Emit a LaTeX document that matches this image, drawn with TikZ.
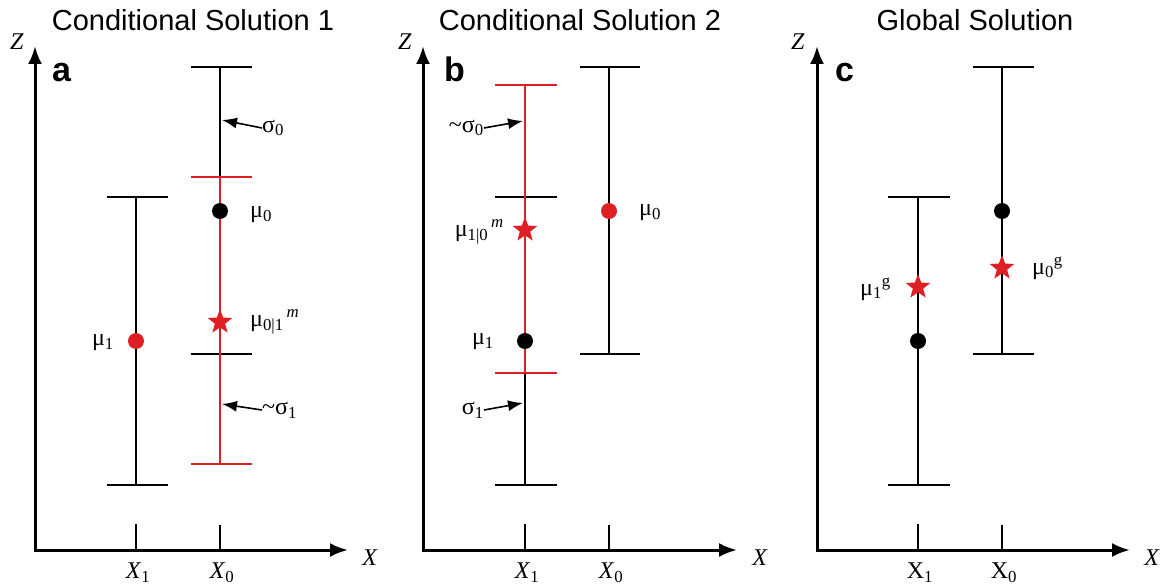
\documentclass[tikz,border=0pt]{standalone}
\usepackage{fontspec}
\setmainfont{Liberation Serif}
\newfontfamily\headfont{Liberation Sans}
\usetikzlibrary{arrows.meta,shapes.geometric}
\definecolor{barred}{RGB}{222,32,36}

\begin{document}
\begin{tikzpicture}[x=1pt,y=-1pt,
  zxaxis/.style={line width=3pt,line join=miter,{Latex[length=18pt,width=14pt]}-{Latex[length=18pt,width=14pt]}},
  errbar/.style={line width=2.6pt},
  pointer/.style={line width=1.6pt,-{Latex[length=15pt,width=11pt]}},
  title/.style={font=\headfont\fontsize{29}{30}\selectfont},
  panel/.style={font=\headfont\bfseries\fontsize{34}{34}\selectfont,anchor=base west,inner sep=0pt},
  lab/.style={font=\fontsize{24}{24}\selectfont,inner sep=0pt},
  ptdot/.style={circle,fill,minimum size=16pt,inner sep=0pt},
  mstar/.style={star,star points=5,star point ratio=2.4,fill=barred,minimum size=26pt,inner sep=0pt}]
  \useasboundingbox (0,0) rectangle (1163,588);

  % panel a
  \node[title] (ta) at (193,20) {Conditional Solution 1};
  \node[panel] (pa) at (52,82) {a};
  \draw[zxaxis] (35,46) -- (35,550) -- (348,550);
  \node[lab] (za) at (17,42) {\textit{Z}};
  \node[lab] (xa) at (370,558) {\textit{X}};
  \draw[errbar] (136,524) -- (136,550) (220,525) -- (220,550);
  \node[lab] (x1a) at (138,573) {\textit{X}\textsubscript{1}};
  \node[lab] (x0a) at (222,573) {\textit{X}\textsubscript{0}};
  \draw[errbar] (107,197) -- (168,197) (136,197) -- (136,485) (107,485) -- (168,485);
  \draw[errbar] (191,67) -- (252,67) (220,67) -- (220,354) (191,354) -- (252,354);
  \draw[errbar,barred] (191,177) -- (252,177) (220,177) -- (220,464) (191,464) -- (252,464);
  \node[ptdot,barred] (m1a) at (136,341) {};
  \node[ptdot] (m0a) at (220,211) {};
  \node[mstar] (m01) at (220,322) {};
  \node[lab] (lm1a) at (103,343) {μ\textsubscript{1}};
  \node[lab,anchor=west] (lm0a) at (250,215) {μ\textsubscript{0}};
  \node[lab,anchor=west] (lm01) at (250,322) {μ\textsubscript{0|1}\textsuperscript{\,\textit{m}}};
  \node[lab,anchor=west] (s0a) at (262,128) {σ\textsubscript{0}};
  \coordinate (s0atip) at (222,120);
  \draw[pointer] (s0a.west) -- (s0atip);
  \node[lab,anchor=west] (s1a) at (262,410) {\textasciitilde σ\textsubscript{1}};
  \coordinate (s1atip) at (222,404);
  \draw[pointer] (s1a.west) -- (s1atip);

  % panel b
  \node[title] (tb) at (580,20) {Conditional Solution 2};
  \node[panel] (pb) at (444,82) {b};
  \draw[zxaxis] (423,46) -- (423,550) -- (737,550);
  \node[lab] (zb) at (405,42) {\textit{Z}};
  \node[lab] (xb) at (760,558) {\textit{X}};
  \draw[errbar] (525,524) -- (525,550) (609,525) -- (609,550);
  \node[lab] (x1b) at (527,573) {\textit{X}\textsubscript{1}};
  \node[lab] (x0b) at (611,573) {\textit{X}\textsubscript{0}};
  \draw[errbar] (580,67) -- (640,67) (609,67) -- (609,354) (580,354) -- (640,354);
  \draw[errbar] (495,197) -- (557,197) (525,197) -- (525,485) (495,485) -- (557,485);
  \draw[errbar,barred] (495,85) -- (557,85) (525,85) -- (525,373) (495,373) -- (557,373);
  \node[ptdot] (m1b) at (525,341) {};
  \node[ptdot,barred] (m0b) at (609,211) {};
  \node[mstar] (m10) at (525,230) {};
  \node[lab,anchor=east] (lm1b) at (494,342) {μ\textsubscript{1}};
  \node[lab,anchor=west] (lm0b) at (639,213) {μ\textsubscript{0}};
  \node[lab,anchor=east] (lm10) at (504,232) {μ\textsubscript{1|0}\textsuperscript{\,\textit{m}}};
  \node[lab,anchor=east] (s0b) at (484,128) {\textasciitilde σ\textsubscript{0}};
  \coordinate (s0btip) at (523,121);
  \draw[pointer] (s0b.east) -- (s0btip);
  \node[lab,anchor=east] (s1b) at (484,410) {σ\textsubscript{1}};
  \coordinate (s1btip) at (523,403);
  \draw[pointer] (s1b.east) -- (s1btip);

  % panel c
  \node[title] (tc) at (975,20) {Global Solution};
  \node[panel] (pc) at (835,82) {c};
  \draw[zxaxis] (817,46) -- (817,550) -- (1130,550);
  \node[lab] (zc) at (798,42) {\textit{Z}};
  \node[lab] (xc) at (1152,558) {\textit{X}};
  \draw[errbar] (918,524) -- (918,550) (1002,525) -- (1002,550);
  \node[lab] (x1c) at (920,573) {X\textsubscript{1}};
  \node[lab] (x0c) at (1004,573) {X\textsubscript{0}};
  \draw[errbar] (888,197) -- (950,197) (918,197) -- (918,485) (888,485) -- (950,485);
  \draw[errbar] (973,67) -- (1034,67) (1002,67) -- (1002,354) (973,354) -- (1034,354);
  \node[ptdot] (m1c) at (918,341) {};
  \node[ptdot] (m0c) at (1002,211) {};
  \node[mstar] (g1) at (918,287) {};
  \node[mstar] (g0) at (1002,268) {};
  \node[lab,anchor=east] (lg1) at (891,289) {μ\textsubscript{1}\textsuperscript{g}};
  \node[lab,anchor=west] (lg0) at (1032,268) {μ\textsubscript{0}\textsuperscript{g}};
\end{tikzpicture}
\end{document}
